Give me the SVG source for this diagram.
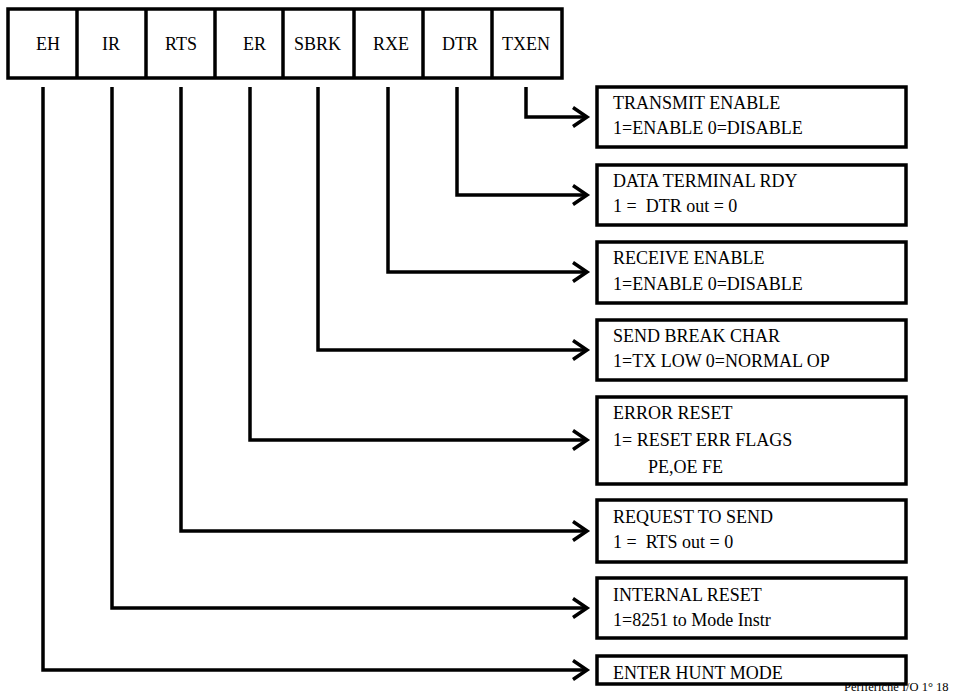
<svg xmlns="http://www.w3.org/2000/svg" width="959" height="696" viewBox="0 0 959 696">
  <style>
    text { font-family: 'Liberation Serif', 'DejaVu Serif', serif; fill: #000; }
    .t { font-size: 18px; white-space: pre; }
    .foot { font-size: 12.5px; }
    .box { fill: #fff; stroke: #000; stroke-width: 3.5; }
    .div { stroke: #000; stroke-width: 3.5; }
    .wire { fill: none; stroke: #000; stroke-width: 3.5; stroke-linejoin: miter; marker-end: url(#chev); }
  </style>
  <defs>
    <marker id="chev" markerUnits="userSpaceOnUse" viewBox="-20 -14 24 28" refX="0" refY="0" markerWidth="24" markerHeight="28" orient="auto" overflow="visible">
      <path d="M-14,-9.5 L0,0 L-14,9.5" fill="none" stroke="#000" stroke-width="3.5" stroke-linejoin="miter"/>
    </marker>
  </defs>
  <rect width="959" height="696" fill="#fff"/>

  <!-- command register bit cells -->
  <g id="register">
    <rect class="box" x="8" y="9" width="554" height="69"/>
    <line class="div" x1="77" y1="9" x2="77" y2="78"/>
    <line class="div" x1="146" y1="9" x2="146" y2="78"/>
    <line class="div" x1="215" y1="9" x2="215" y2="78"/>
    <line class="div" x1="283" y1="9" x2="283" y2="78"/>
    <line class="div" x1="354" y1="9" x2="354" y2="78"/>
    <line class="div" x1="423" y1="9" x2="423" y2="78"/>
    <line class="div" x1="492" y1="9" x2="492" y2="78"/>
    <text class="t" x="36" y="50">EH</text>
    <text class="t" x="102" y="50">IR</text>
    <text class="t" x="165" y="50">RTS</text>
    <text class="t" x="243" y="50">ER</text>
    <text class="t" x="294" y="50">SBRK</text>
    <text class="t" x="373" y="50">RXE</text>
    <text class="t" x="442" y="50">DTR</text>
    <text class="t" x="502" y="50">TXEN</text>
  </g>

  <!-- bit-to-description connectors -->
  <g id="connectors">
    <path class="wire" d="M526,87 V117 H587"/>
    <path class="wire" d="M457,87 V195 H587"/>
    <path class="wire" d="M388,87 V272 H587"/>
    <path class="wire" d="M318,87 V350 H587"/>
    <path class="wire" d="M250,87 V440 H587"/>
    <path class="wire" d="M181,87 V531 H587"/>
    <path class="wire" d="M112,87 V608 H587"/>
    <path class="wire" d="M43,87 V670 H587"/>
  </g>

  <text class="foot" x="844" y="691">Periferiche I/O 1° 18</text>

  <g id="txen">
    <rect class="box" x="597" y="87" width="309" height="60"/>
    <text class="t" x="613" y="109">TRANSMIT ENABLE</text>
    <text class="t" x="613" y="134">1=ENABLE 0=DISABLE</text>
  </g>
  <g id="dtr">
    <rect class="box" x="597" y="165" width="309" height="60"/>
    <text class="t" x="613" y="187">DATA TERMINAL RDY</text>
    <text class="t" x="613" y="212">1 =  DTR out = 0</text>
  </g>
  <g id="rxe">
    <rect class="box" x="597" y="242" width="309" height="61"/>
    <text class="t" x="613" y="264">RECEIVE ENABLE</text>
    <text class="t" x="613" y="290">1=ENABLE 0=DISABLE</text>
  </g>
  <g id="sbrk">
    <rect class="box" x="597" y="320" width="309" height="60"/>
    <text class="t" x="613" y="342">SEND BREAK CHAR</text>
    <text class="t" x="613" y="367">1=TX LOW 0=NORMAL OP</text>
  </g>
  <g id="er">
    <rect class="box" x="597" y="397" width="309" height="87"/>
    <text class="t" x="613" y="419">ERROR RESET</text>
    <text class="t" x="613" y="446">1= RESET ERR FLAGS</text>
    <text class="t" x="648" y="473">PE,OE FE</text>
  </g>
  <g id="rts">
    <rect class="box" x="597" y="500" width="309" height="62"/>
    <text class="t" x="613" y="523">REQUEST TO SEND</text>
    <text class="t" x="613" y="548">1 =  RTS out = 0</text>
  </g>
  <g id="ir">
    <rect class="box" x="597" y="578" width="309" height="60"/>
    <text class="t" x="613" y="601">INTERNAL RESET</text>
    <text class="t" x="613" y="626">1=8251 to Mode Instr</text>
  </g>
  <g id="eh">
    <rect class="box" x="597" y="656" width="309" height="28"/>
    <text class="t" x="613" y="679">ENTER HUNT MODE</text>
  </g>
</svg>
